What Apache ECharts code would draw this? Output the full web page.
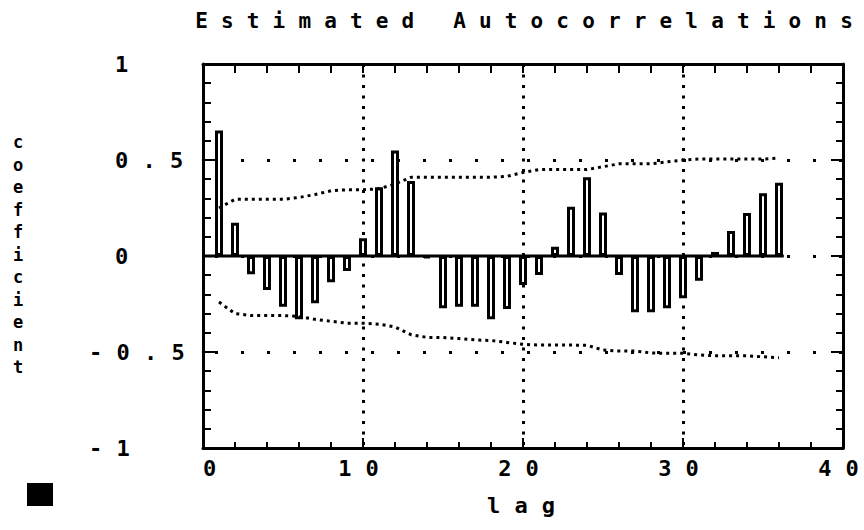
<!DOCTYPE html>
<html>
<head>
<meta charset="utf-8">
<script src="https://cdn.jsdelivr.net/npm/echarts@6/dist/echarts.min.js"></script>
<style>
  html, body { margin: 0; padding: 0; background: #fff; }
  #main { width: 864px; height: 530px; }
  /* y name is written as upright stacked letters */
  #main text[style*="17px"] { writing-mode: vertical-rl; text-orientation: upright; letter-spacing: 2.5px; }
</style>
</head>
<body>
<div id="main"></div>
<script>
const lags = [1, 2, 3, 4, 5, 6, 7, 8, 9, 10, 11, 12, 13, 14, 15, 16, 17, 18,
  19, 20, 21, 22, 23, 24, 25, 26, 27, 28, 29, 30, 31, 32, 33, 34, 35, 36];

const acf = [0.653, 0.173, -0.095, -0.177, -0.264, -0.33, -0.246, -0.137, -0.078, 0.092,
  0.358, 0.55, 0.39, -0.01, -0.272, -0.264, -0.264, -0.33, -0.276, -0.151,
  -0.099, 0.048, 0.257, 0.41, 0.226, -0.099, -0.293, -0.293, -0.272, -0.22,
  -0.129, 0.021, 0.13, 0.224, 0.327, 0.382];

// approximate 95% limits
const upperBand = [0.25, 0.295, 0.295, 0.295, 0.295, 0.305, 0.32, 0.34, 0.345, 0.345,
  0.35, 0.375, 0.41, 0.41, 0.41, 0.41, 0.41, 0.41, 0.415, 0.435,
  0.45, 0.45, 0.45, 0.45, 0.465, 0.48, 0.48, 0.48, 0.49, 0.5,
  0.505, 0.505, 0.505, 0.505, 0.505, 0.51];

const lowerBand = [-0.24, -0.3, -0.31, -0.31, -0.31, -0.315, -0.33, -0.34, -0.35, -0.35,
  -0.355, -0.37, -0.41, -0.424, -0.424, -0.43, -0.437, -0.44, -0.45, -0.46,
  -0.464, -0.464, -0.464, -0.465, -0.49, -0.495, -0.495, -0.505, -0.507, -0.507,
  -0.515, -0.52, -0.52, -0.52, -0.525, -0.53];

const titleText = 'Estimated Autocorrelations';
const xName = 'lag';
const yName = 'coefficient';

const FONT = "'DejaVu Sans Mono', monospace";
const BLACK = '#000';
const frameLine = { color: BLACK, width: 3 };
const tickLine = { color: BLACK, width: 2 };
const labelFont = { fontFamily: FONT, fontWeight: 'bold', fontSize: 22, color: BLACK };

const chart = echarts.init(document.getElementById('main'), null, { renderer: 'svg' });

const pairs = (ys) => lags.map((l, i) => [l, ys[i]]);

const option = {
  animation: false,
  backgroundColor: '#fff',
  title: {
    text: titleText,
    left: 524,
    top: 10,
    padding: 0,
    textAlign: 'center',
    textStyle: { fontFamily: FONT, fontWeight: 'bold', fontSize: 21, color: BLACK }
  },
  grid: { left: 203, right: 21, top: 64, bottom: 82, outerBoundsMode: 'none' },
  xAxis: [
    {
      type: 'value', min: 0, max: 40, interval: 10, position: 'bottom',
      name: xName, nameLocation: 'middle', nameGap: 46, nameMoveOverlap: false,
      nameTextStyle: Object.assign({ padding: [0, 4, 0, 0] }, labelFont),
      axisLine: { show: true, onZero: false, lineStyle: frameLine },
      axisTick: { inside: true, length: 10, lineStyle: tickLine },
      minorTick: { show: true, splitNumber: 5, length: 6, lineStyle: tickLine },
      axisLabel: Object.assign({ margin: 9, padding: [0, 9, 0, 0], alignMinLabel: 'left' }, labelFont),
      splitLine: {
        show: true, showMinLine: false, showMaxLine: false,
        lineStyle: { color: BLACK, width: 3, type: [3, 7.5] }
      }
    },
    {
      type: 'value', min: 0, max: 40, interval: 10, position: 'top',
      axisLine: { show: true, onZero: false, lineStyle: frameLine },
      axisTick: { inside: true, length: 9, lineStyle: tickLine },
      minorTick: { show: true, splitNumber: 5, length: 9, lineStyle: tickLine },
      axisLabel: { show: false },
      splitLine: { show: false }
    }
  ],
  yAxis: [
    {
      type: 'value', min: -1, max: 1, interval: 0.5, position: 'left',
      name: yName, nameLocation: 'middle', nameGap: 185, nameRotate: 0, nameMoveOverlap: false,
      nameTextStyle: {
        fontFamily: FONT, fontWeight: 'bold', fontSize: 17, color: BLACK,
        align: 'center', verticalAlign: 'middle', padding: [8, 0, 0, 0]
      },
      axisLine: { show: true, onZero: false, lineStyle: frameLine },
      axisTick: { inside: true, length: 12, lineStyle: tickLine },
      minorTick: { show: true, splitNumber: 5, length: 8, lineStyle: tickLine },
      axisLabel: {
        margin: 114,
        align: 'left',
        // minus sign hangs to the left of the digits
        formatter: (v) => (v < 0 ? '{neg|' + v + '}' : '{pos|' + v + '}'),
        rich: {
          neg: Object.assign({}, labelFont),
          pos: Object.assign({ padding: [0, 0, 0, 26] }, labelFont)
        }
      },
      splitLine: {
        show: true, showMinLine: false, showMaxLine: false,
        lineStyle: { color: BLACK, width: 3, type: [3, 23], dashOffset: 13.5 }
      }
    },
    {
      type: 'value', min: -1, max: 1, interval: 0.5, position: 'right',
      axisLine: { show: true, onZero: false, lineStyle: frameLine },
      axisTick: { inside: true, length: 12, lineStyle: tickLine },
      minorTick: { show: true, splitNumber: 5, length: 7, lineStyle: tickLine },
      axisLabel: { show: false },
      splitLine: { show: false }
    }
  ],
  graphic: [
    { type: 'rect', left: 27, top: 483, shape: { width: 26, height: 23 }, style: { fill: BLACK } }
  ],
  series: [
    {
      // solid baseline under the bars
      type: 'line', xAxisIndex: 0, yAxisIndex: 0, z: 2,
      data: [[0, 0], [lags[lags.length - 1] + 0.3, 0]],
      symbol: 'none', silent: true,
      lineStyle: { color: BLACK, width: 3 }
    },
    {
      type: 'bar', xAxisIndex: 0, yAxisIndex: 0, z: 3,
      data: pairs(acf),
      barWidth: 8,
      itemStyle: { color: '#fff', borderColor: BLACK, borderWidth: 3 }
    },
    {
      type: 'line', xAxisIndex: 0, yAxisIndex: 0, z: 4,
      data: pairs(upperBand), symbol: 'none',
      lineStyle: { color: BLACK, width: 3, type: [3, 4] }
    },
    {
      type: 'line', xAxisIndex: 0, yAxisIndex: 0, z: 4,
      data: pairs(lowerBand), symbol: 'none',
      lineStyle: { color: BLACK, width: 3, type: [3, 4] }
    }
  ]
};

// the plotter font is very wide: spread each horizontal text to its character pitch
function spreadText() {
  document.querySelectorAll('#main svg text').forEach((t) => {
    const style = t.getAttribute('style') || '';
    if (style.indexOf('17px') >= 0) return;
    const n = t.textContent.length;
    if (n < 2) return;
    const isTitle = style.indexOf('21px') >= 0;
    const pitch = isTitle ? 25.8 : 27.5;
    const advance = isTitle ? 12.6 : 13.2;
    t.setAttribute('textLength', ((n - 1) * pitch + advance).toFixed(1));
    t.setAttribute('lengthAdjust', 'spacing');
  });
}

chart.setOption(option);
spreadText();
chart.on('finished', spreadText);
</script>
</body>
</html>
